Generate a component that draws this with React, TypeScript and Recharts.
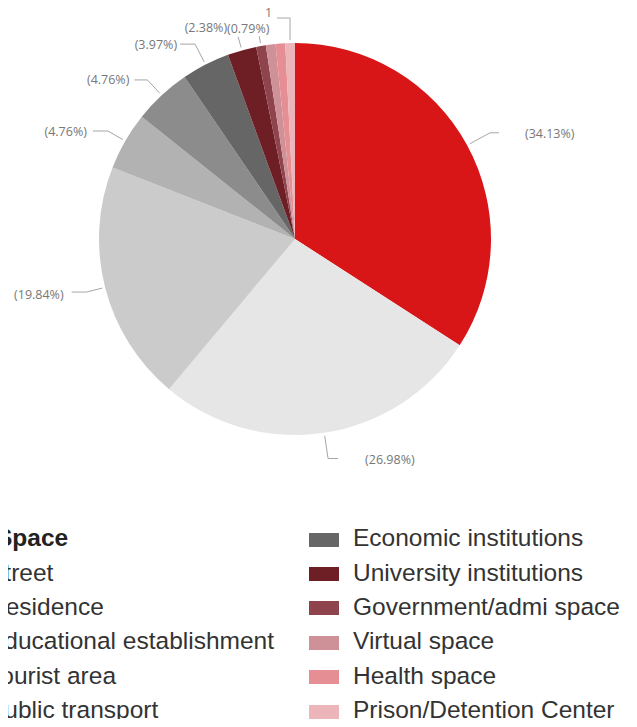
import React from 'react';
import { PieChart, Pie, Cell } from 'recharts';

// Reported incidents by type of space (counts)
const categories = [
  'Street',
  'Residence',
  'Educational establishment',
  'Tourist area',
  'Public transport',
  'Economic institutions',
  'University institutions',
  'Government/admi space',
  'Virtual space',
  'Health space',
  'Prison/Detention Center',
];
const counts = [43, 34, 25, 6, 6, 5, 3, 1, 1, 1, 1];
const colors = [
  '#d81618',
  '#e6e6e6',
  '#cbcbcb',
  '#b2b2b2',
  '#8c8c8c',
  '#666666',
  '#6d1f25',
  '#8f434c',
  '#cf9198',
  '#e58f94',
  '#ebb5ba',
];
const legendTitle = 'Space';

const total = counts.reduce((a, b) => a + b, 0);
const data = categories.map((name, i) => ({ name, value: counts[i] }));

// Leader-line layout per slice label
type LabelLayout = {
  kind: 'pct' | 'value' | 'none';
  ext?: number;
  run?: number;
  gap?: number;
  dy?: number;
  mode?: 'elbow' | 'above' | 'vertical';
};
const labelLayout: Record<string, LabelLayout> = {
  Street: { kind: 'pct', ext: 26, run: 9, gap: 26, dy: 1 },
  Residence: { kind: 'pct', ext: 26, run: 10, gap: 27, dy: 1 },
  'Educational establishment': { kind: 'pct', ext: 19, run: 15, gap: 8, dy: 2 },
  'Tourist area': { kind: 'pct', ext: 20, run: 15, gap: 6, dy: 0 },
  'Public transport': { kind: 'pct', ext: 21, run: 13, gap: 5, dy: 0 },
  'Economic institutions': { kind: 'pct', ext: 23, run: 15, gap: 3, dy: 0 },
  'University institutions': { kind: 'pct', ext: 14, run: 0, gap: 11, dy: -9 },
  'Government/admi space': { kind: 'pct', ext: 10, mode: 'above', dy: -8 },
  'Virtual space': { kind: 'none' },
  'Health space': { kind: 'none' },
  'Prison/Detention Center': { kind: 'value', mode: 'vertical' },
};

const RAD = Math.PI / 180;
const polar = (cx: number, cy: number, r: number, a: number): [number, number] => [
  cx + r * Math.cos(-a * RAD),
  cy + r * Math.sin(-a * RAD),
];

const LINE = '#a6a6a6';
const TEXT = '#777777';
const LABEL_SIZE = 12.5;
const labelFont = '"Open Sans", "DejaVu Sans", sans-serif';

const renderLabel = (props: any) => {
  const { cx, cy, midAngle, outerRadius, name, value, index } = props;
  const lay = labelLayout[name] || { kind: 'none' };
  if (lay.kind === 'none') return null;
  const text =
    lay.kind === 'value' ? String(value) : `(${((value / total) * 100).toFixed(2)}%)`;
  const p0 = polar(cx, cy, outerRadius + 3, midAngle);

  if (lay.mode === 'vertical') {
    const topY = cy - outerRadius - 25;
    const p1: [number, number] = [p0[0], topY];
    const p2: [number, number] = [p0[0] - 13, topY];
    return (
      <g key={`lbl-${index}`}>
        <polyline
          points={`${p0[0]},${p0[1]} ${p1[0]},${p1[1]} ${p2[0]},${p2[1]}`}
          fill="none"
          stroke={LINE}
          strokeWidth={1}
        />
        <text
          x={p2[0] - 5}
          y={topY - 6}
          textAnchor="end"
          dominantBaseline="central"
          fill={TEXT}
          fontSize={LABEL_SIZE}
          fontFamily={labelFont}
        >
          {text}
        </text>
      </g>
    );
  }

  if (lay.mode === 'above') {
    const p1 = polar(cx, cy, outerRadius + (lay.ext || 10), midAngle);
    return (
      <g key={`lbl-${index}`}>
        <polyline
          points={`${p0[0]},${p0[1]} ${p1[0]},${p1[1]}`}
          fill="none"
          stroke={LINE}
          strokeWidth={1}
        />
        <text
          x={p1[0] - 11}
          y={p1[1] + (lay.dy || 0)}
          textAnchor="middle"
          dominantBaseline="central"
          fill={TEXT}
          fontSize={LABEL_SIZE}
          fontFamily={labelFont}
        >
          {text}
        </text>
      </g>
    );
  }

  const right = Math.cos(-midAngle * RAD) >= 0;
  const sign = right ? 1 : -1;
  const p1 = polar(cx, cy, outerRadius + (lay.ext || 20), midAngle);
  const p2: [number, number] = [p1[0] + sign * (lay.run || 0), p1[1]];
  return (
    <g key={`lbl-${index}`}>
      <polyline
        points={`${p0[0]},${p0[1]} ${p1[0]},${p1[1]} ${p2[0]},${p2[1]}`}
        fill="none"
        stroke={LINE}
        strokeWidth={1}
      />
      <text
        x={p2[0] + sign * (lay.gap || 0)}
        y={p2[1] + (lay.dy || 0)}
        textAnchor={right ? 'start' : 'end'}
        dominantBaseline="central"
        fill={TEXT}
        fontSize={LABEL_SIZE}
        fontFamily={labelFont}
      >
        {text}
      </text>
    </g>
  );
};

const legendFont = '"Liberation Sans", Arial, sans-serif';
const ROW_TOP = 521;
const ROW_H = 34.4;

const LegendItem = ({ name, color, left, row }: { name: string; color: string; left: number; row: number }) => (
  <div
    style={{
      position: 'absolute',
      left,
      top: ROW_TOP + row * ROW_H,
      height: ROW_H,
      display: 'flex',
      alignItems: 'center',
      whiteSpace: 'nowrap',
    }}
  >
    <span
      style={{
        display: 'inline-block',
        width: 30,
        height: 14,
        background: color,
        marginRight: 14,
        marginTop: 3,
      }}
    />
    <span style={{ fontSize: 24.5, color: '#333333', fontFamily: legendFont }}>{name}</span>
  </div>
);

export default function App() {
  return (
    <div
      style={{
        position: 'relative',
        width: 637,
        height: 727,
        margin: -8,
        overflow: 'hidden',
        background: '#ffffff',
      }}
    >
      <div style={{ position: 'absolute', left: 0, top: 0 }}>
        <PieChart width={637} height={500} margin={{ top: 0, right: 0, bottom: 0, left: 0 }}>
          <Pie
            data={data}
            dataKey="value"
            nameKey="name"
            cx={295}
            cy={239}
            outerRadius={196}
            startAngle={90}
            endAngle={-270}
            stroke="none"
            label={renderLabel}
            labelLine={false}
            isAnimationActive={false}
          >
            {data.map((d, i) => (
              <Cell key={d.name} fill={colors[i]} />
            ))}
          </Pie>
        </PieChart>
      </div>

      <div
        style={{
          position: 'absolute',
          left: -4,
          top: ROW_TOP,
          height: ROW_H,
          display: 'flex',
          alignItems: 'center',
          fontSize: 24.5,
          fontWeight: 'bold',
          color: '#222222',
          fontFamily: legendFont,
          whiteSpace: 'nowrap',
        }}
      >
        {legendTitle}
      </div>
      {categories.slice(0, 5).map((name, i) => (
        <LegendItem key={name} name={name} color={colors[i]} left={-56} row={i + 1} />
      ))}
      {categories.slice(5).map((name, i) => (
        <LegendItem key={name} name={name} color={colors[i + 5]} left={309} row={i} />
      ))}
    </div>
  );
}
